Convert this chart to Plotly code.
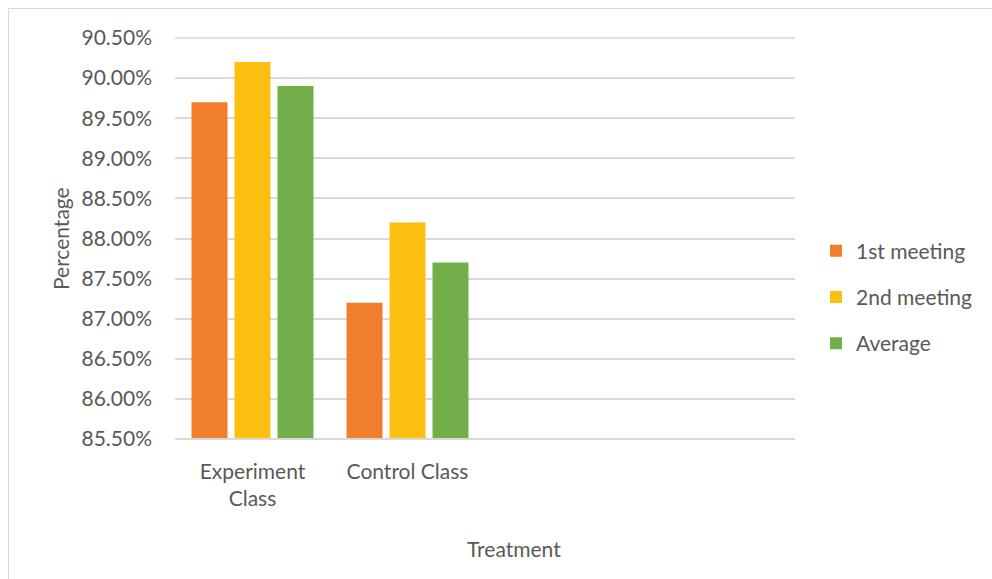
import plotly.graph_objects as go

categories = ["Experiment<br>Class", "Control Class"]
series_names = ["1st meeting", "2nd meeting", "Average"]
first_meeting = [89.70, 87.20]
second_meeting = [90.20, 88.20]
average = [89.90, 87.70]
tick_vals = [85.5, 86.0, 86.5, 87.0, 87.5, 88.0, 88.5, 89.0, 89.5, 90.0, 90.5]
tick_text = [f"{v:.2f}%" for v in tick_vals]

colors = ["#F07E2C", "#FDC011", "#72AF48"]
values = [first_meeting, second_meeting, average]

W, H = 992, 579
L, R, T, B = 175, 795, 38, 439

fig = go.Figure()
x_pos = list(range(len(categories)))
for name, vals, col in zip(series_names, values, colors):
    fig.add_trace(go.Bar(
        x=x_pos, y=[v - tick_vals[0] for v in vals], base=tick_vals[0],
        name=name, marker=dict(color=col, line=dict(width=0)),
        legendgroup=name,
    ))

font = "Lato, 'Open Sans', sans-serif"
txt = "#595959"
fs = 21

def px_x(p):
    return (p - L) / (R - L)

def px_y(p):
    return (B - p) / (B - T)

fig.update_layout(
    width=W, height=H,
    margin=dict(l=L, r=W - R, t=T, b=H - B, autoexpand=False),
    paper_bgcolor="white", plot_bgcolor="white",
    barmode="group", bargap=0.168, bargroupgap=0.163,
    font=dict(family=font, size=fs, color=txt),
    showlegend=True,
    legend=dict(x=px_x(816), xanchor="left", y=px_y(297), yanchor="middle",
                font=dict(size=fs, color=txt), tracegroupgap=16,
                bgcolor="rgba(0,0,0,0)"),
    xaxis=dict(range=[-0.5, 3.5], tickvals=x_pos, ticktext=categories,
               showgrid=False, zeroline=False, showline=False, ticks="",
               tickfont=dict(size=fs, color=txt), ticklabelstandoff=18),
    yaxis=dict(range=[85.5, 90.5], tickvals=tick_vals, ticktext=tick_text,
               showgrid=True, gridcolor="#D9D9D9", gridwidth=1.5,
               zeroline=False, showline=False, ticks="",
               tickfont=dict(size=fs, color=txt), ticklabelstandoff=22),
    shapes=[
        dict(type="rect", xref="paper", yref="paper",
             x0=px_x(8.5), x1=px_x(1200), y0=px_y(700), y1=px_y(8.5),
             line=dict(color="#D9D9D9", width=1), fillcolor="rgba(0,0,0,0)",
             layer="below"),
        dict(type="line", xref="paper", yref="paper",
             x0=0, x1=1, y0=0, y1=0, line=dict(color="#D9D9D9", width=2)),
        dict(type="line", xref="paper", yref="paper", layer="below",
             x0=0, x1=1, y0=1, y1=1, line=dict(color="#D9D9D9", width=1.5)),
    ],
    annotations=[
        dict(text="Percentage", xref="paper", yref="paper",
             x=px_x(60), y=px_y(239), textangle=-90, showarrow=False,
             xanchor="center", yanchor="middle", font=dict(size=fs, color=txt)),
        dict(text="Treatment", xref="paper", yref="paper",
             x=px_x(514), y=px_y(548), showarrow=False,
             xanchor="center", yanchor="middle", font=dict(size=fs, color=txt)),
    ],
)

fig.write_html("out.html")
